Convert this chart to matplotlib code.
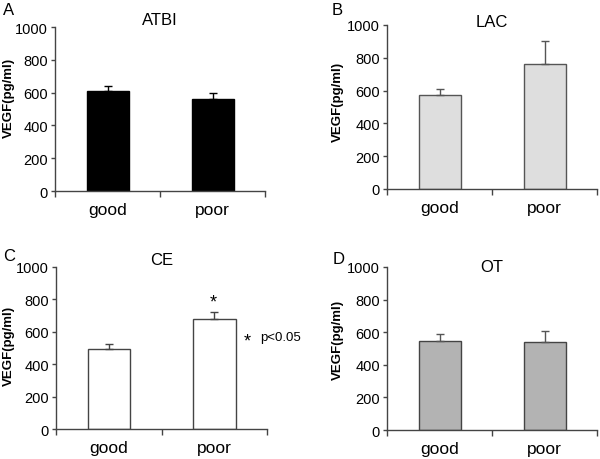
import matplotlib
matplotlib.use("Agg")
import matplotlib.pyplot as plt

plt.rcParams['font.family'] = ['Liberation Sans', 'DejaVu Sans']

categories = ["good", "poor"]
panels = ["A", "B", "C", "D"]
titles = ["ATBI", "LAC", "CE", "OT"]
means = {
    "ATBI": [611, 561],
    "LAC": [571, 764],
    "CE": [494, 681],
    "OT": [546, 542],
}
errors = {
    "ATBI": [28, 39],
    "LAC": [38, 136],
    "CE": [33, 41],
    "OT": [41, 63],
}
yticks = [0, 200, 400, 600, 800, 1000]

face = {"ATBI": "#000000", "LAC": "#dedede", "CE": "#ffffff", "OT": "#b3b3b3"}
edge = {"ATBI": "#000000", "LAC": "#555555", "CE": "#444444", "OT": "#444444"}
ecol = {"ATBI": "#000000", "LAC": "#555555", "CE": "#444444", "OT": "#555555"}

fig = plt.figure(figsize=(6, 4.6), dpi=100)
rects = [
    [0.0917, 0.5826, 0.350, 0.3565],
    [0.645, 0.587, 0.350, 0.3565],
    [0.0933, 0.0652, 0.352, 0.3522],
    [0.645, 0.063, 0.350, 0.3544],
]
letter_pos = [(0.005, 0.978), (0.553, 0.978), (0.005, 0.443), (0.555, 0.435)]
title_y = [1.018, 0.994, 1.018, 0.975]
label_coords = [(-0.19, 0.573), (-0.205, 0.537), (-0.194, 0.519), (-0.205, 0.558)]

for i, t in enumerate(titles):
    ax = fig.add_axes(rects[i])
    x = [0.5, 1.5]
    ax.bar(x, means[t], width=0.4, color=face[t], edgecolor=edge[t], linewidth=1.0, zorder=2)
    ax.errorbar(x, means[t], yerr=[[0, 0], errors[t]], fmt='none', ecolor=ecol[t],
                elinewidth=1.0, capsize=3, capthick=1.0, zorder=3)
    ax.set_xlim(0, 2)
    ax.set_ylim(0, 1000)
    ax.set_yticks(yticks)
    ax.set_yticklabels([str(v) for v in yticks], fontsize=10.5)
    ax.set_xticks([0, 1, 2])
    ax.set_xticklabels([])
    ax.set_xticks(x, minor=True)
    ax.set_xticklabels(categories, minor=True, fontsize=12.5)
    ax.tick_params(axis='x', which='minor', length=0, pad=8)
    ax.tick_params(axis='x', which='major', length=4, width=1, color='#444444', direction='out')
    ax.tick_params(axis='y', length=3, width=1, color='#444444', direction='out', pad=2)
    for s in ['top', 'right']:
        ax.spines[s].set_visible(False)
    for s in ['left', 'bottom']:
        ax.spines[s].set_color('#444444')
        ax.spines[s].set_linewidth(1.0)
    ax.set_ylabel("VEGF(pg/ml)", fontsize=9.5, fontweight='bold')
    ax.yaxis.set_label_coords(*label_coords[i])
    ax.set_title(t, fontsize=12, y=title_y[i], pad=0)
    fig.text(letter_pos[i][0], letter_pos[i][1], panels[i], fontsize=12, va='center', ha='left')
    if t == "CE":
        ax.text(1.49, 785, "*", fontsize=13, ha='center', va='center')
        ax.text(1.81, 545, "*", fontsize=13, ha='center', va='center')
        ax.text(1.93, 565, "p<0.05", fontsize=9.5, ha='left', va='center', clip_on=False)

fig.savefig("out.png", dpi=100)
